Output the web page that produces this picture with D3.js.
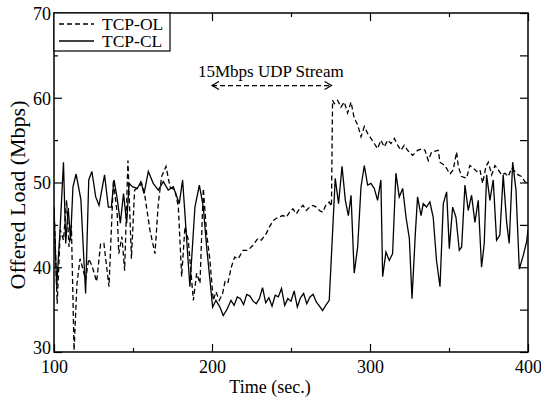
<!DOCTYPE html>
<html>
<head>
<meta charset="utf-8">
<script src="https://cdn.jsdelivr.net/npm/d3@7"></script>
<style>
  body { margin: 0; background: #fff; }
  text { font-family: "Liberation Serif", "Times New Roman", serif; fill: #000; }
</style>
</head>
<body>
<div id="chart"></div>
<script>
// * STEP 1: Data
//==============================================
var seriesNames = ["TCP-OL", "TCP-CL"];

// TCP-OL (dashed)
var olTime = [100, 102, 104, 106, 108, 109.5, 111, 112.7, 114.5, 116.5, 118, 120, 122, 124, 127, 129.5, 131.6, 134.8, 137.6, 140,
  141, 143, 144.7, 146.8, 149, 151, 153.8, 155.5, 157.6, 160.7, 163.9, 166, 168.1, 170.9, 173.4, 176.6, 178.7, 180.8, 182.9, 185,
  188.2, 190.3, 192.4, 194.5, 196.6, 198.7, 200.8, 202.5, 204.6, 206.7, 208.2, 210, 212.2, 214.3, 216.6, 219.6, 222.8, 225.9, 229.1, 231.2,
  234.4, 236.5, 238.6, 241.7, 244.9, 247, 249.1, 251.2, 253.4, 255.5, 257.6, 259.7, 261.8, 263.9, 266, 268, 270, 272, 274.2, 275.6,
  276.3, 277.4, 279.5, 281.6, 283.7, 285.8, 288, 290, 292.2, 294.3, 296.4, 298.5, 300.6, 302.7, 304.8, 306.9, 309, 311.2, 313.3, 315.4,
  317.5, 319.6, 321.7, 323.8, 327, 330.1, 333.3, 334.8, 336.9, 339, 343.2, 344.3, 347.4, 350.6, 352.7, 354.8, 355.9, 358, 361.1, 363.2,
  365.4, 367.5, 369.6, 371.3, 373.4, 374.9, 377, 379.1, 381.2, 383.3, 385.4, 387.5, 389.6, 391.7, 393.8, 396, 398, 400];
var olLoad = [47.1, 35.7, 44.4, 43.2, 47.9, 42.4, 45.0, 30.2, 38, 41, 40, 38.5, 41, 40.2, 38.3, 42.8, 42.8, 37.7, 50.3, 46.3,
  41.6, 43.6, 39.6, 52.6, 41, 49.1, 49.5, 49.9, 48.3, 44.4, 41.6, 47.5, 50.7, 51.9, 49.5, 49.1, 47.1, 38.9, 44.8, 43.2,
  36.1, 39.3, 38.1, 49.3, 44, 40.8, 36.1, 37.1, 36.1, 36.9, 38.3, 38.1, 40.0, 41.2, 41.0, 42.0, 42.0, 42.6, 43.4, 43.2,
  44.0, 44.8, 45.5, 45.9, 46.1, 45.9, 46.5, 46.9, 46.3, 46.9, 47.3, 46.7, 47.1, 47.3, 47.1, 46.7, 46.5, 47.3, 47.7, 47.2,
  59.7, 59.3, 59.7, 58.9, 59.5, 58.2, 59.5, 57.6, 56.8, 55.4, 56.6, 55.8, 55.2, 54.6, 54.0, 55.0, 54.2, 55.0, 54.6, 55.2,
  54.4, 53.8, 54.4, 53.8, 53.2, 53.8, 54.0, 53.8, 52.6, 53.6, 53.8, 52.4, 52.0, 51.0, 51.5, 53.6, 51.9, 50.7, 50.5, 52.0,
  51.7, 51.3, 51.5, 49.9, 51.9, 52.4, 50.9, 52.0, 51.5, 50.9, 51.1, 50.7, 51.7, 51.3, 50.9, 50.7, 50.1, 49.9];

// TCP-CL (solid)
var clTime = [100, 101.7, 104, 106, 107.4, 109, 110.5, 112, 114, 117, 120, 122, 124, 126.4, 128.5, 132, 134.4, 136.3, 138, 140,
  142, 144, 146, 147.5, 149.6, 152.7, 155, 157, 159.7, 162.8, 166, 169.2, 172.3, 175.5, 179.3, 181.4, 184, 186, 189.2, 192,
  194.5, 196.6, 198.7, 200.4, 202.5, 205, 207.1, 209.7, 212, 214, 216, 218, 220, 222, 224, 226, 228, 230, 232, 234,
  236, 238, 240, 242, 244, 246, 248, 250, 252, 254, 256, 258, 260, 262, 264, 266, 268, 270, 272, 274.2,
  278, 280.1, 282.3, 284.4, 286.3, 288, 290, 292.2, 294.3, 296.4, 298.5, 300.6, 302.7, 304.8, 306.9, 308, 310.1, 312.2, 314.3, 316.4,
  318.5, 320.7, 322.8, 324.9, 326.6, 328.7, 330.1, 332.3, 333.7, 335.8, 337.9, 340, 342.1, 344.3, 346.4, 348.5, 350.2, 352.3, 354.4, 356.5,
  358, 360.1, 362.2, 364.3, 366.4, 368.5, 370.6, 372.3, 373.8, 375.9, 378, 380.1, 382.2, 384.3, 386.5, 388.1, 390.3, 392.4, 394.5, 397,
  399.1, 400];
var clLoad = [47, 37.7, 45, 52.4, 42.8, 47, 43.2, 49.5, 51, 48, 36.9, 50.3, 51.3, 48.3, 47.3, 50.9, 47.1, 47.1, 50.3, 48.1,
  45.2, 48.7, 45.2, 49.9, 49.5, 49.3, 50.1, 48.7, 51.3, 49.9, 49.1, 50.1, 49.1, 49.5, 47.5, 50.3, 43.2, 37.7, 47.1, 49.7,
  47.1, 42.4, 38.5, 35.3, 36.1, 35.3, 34.3, 35.1, 36.1, 35.5, 36.5, 36.3, 35.6, 36.8, 36.6, 36.0, 35.7, 36.3, 37.6, 35.8,
  36.4, 35.4, 36.7, 36.5, 37.5, 35.5, 36.3, 36.0, 37.2, 35.3, 36.4, 36.9, 35.7, 36.5, 36.8, 35.9, 35.4, 34.9, 35.5, 36.1,
  50.5, 47.5, 51.9, 47.9, 46.1, 48.5, 39.3, 42.4, 49.5, 52.0, 49.7, 49.9, 49.3, 47.9, 50.3, 38.9, 41.8, 40.8, 41.6, 51.1,
  48.3, 49.3, 45.9, 43.4, 36.3, 44.0, 48.3, 46.1, 47.5, 47.1, 47.7, 45.9, 40.8, 37.7, 47.5, 48.9, 42.2, 47.1, 45.9, 42.0,
  42.4, 49.7, 46.7, 48.5, 45.3, 47.9, 40.0, 42.8, 50.9, 47.9, 50.3, 43.2, 43.8, 50.9, 45.3, 42.8, 52.4, 49.1, 39.8, 41.4,
  43.0, 44.4];

// annotation
var udpLabel = "15Mbps UDP Stream";
var udpStart = 200, udpEnd = 275.7, udpLevel = 61.5;

// * STEP 2: Work area
//==============================================
var svgWidth = 541;
var svgHeight = 400;
var margin = { top: 13, right: 13, bottom: 48, left: 54 };
var chartWidth = svgWidth - margin.left - margin.right;
var chartHeight = svgHeight - margin.top - margin.bottom;

var svg = d3.select("#chart").append("svg")
    .attr("width", svgWidth)
    .attr("height", svgHeight);

var g = svg.append("g")
    .attr("transform", `translate(${margin.left}, ${margin.top})`);

// * STEP 3: Scales and axes
//==============================================
var xScale = d3.scaleLinear().domain([100, 400]).range([0, chartWidth]);
var yScale = d3.scaleLinear().domain([30, 70]).range([chartHeight, 0]);

function tickLen(v, step) { return (v % step === 0) ? 8 : 4; }

// ticks point inward on all four sides
var bottomAxis = d3.axisBottom(xScale).tickValues(d3.range(100, 401, 50))
    .tickSizeInner(0).tickSizeOuter(0).tickFormat(d => d % 100 === 0 ? d : "");
var leftAxis = d3.axisLeft(yScale).tickValues(d3.range(30, 71, 5))
    .tickSizeInner(0).tickSizeOuter(0).tickFormat(d => d % 10 === 0 ? d : "");

var xAxisG = g.append("g").attr("transform", `translate(0, ${chartHeight})`).call(bottomAxis);
var yAxisG = g.append("g").call(leftAxis);

xAxisG.selectAll(".tick line").attr("y2", d => -tickLen(d, 100));
yAxisG.selectAll(".tick line").attr("x2", d => tickLen(d, 10));
xAxisG.selectAll(".tick text").attr("dy", "0.95em").attr("y", 4).style("font-size", "18px");
yAxisG.selectAll(".tick text").attr("x", -3).attr("dy", d => d === 30 ? "0.1em" : "0.35em").style("font-size", "18px");

var topAxisG = g.append("g").call(d3.axisTop(xScale).tickValues(d3.range(100, 401, 50))
    .tickSizeInner(0).tickSizeOuter(0).tickFormat(""));
topAxisG.selectAll(".tick line").attr("y2", d => tickLen(d, 100));
var rightAxisG = g.append("g").attr("transform", `translate(${chartWidth}, 0)`)
    .call(d3.axisRight(yScale).tickValues(d3.range(30, 71, 5))
    .tickSizeInner(0).tickSizeOuter(0).tickFormat(""));
rightAxisG.selectAll(".tick line").attr("x2", -8);

g.selectAll(".domain").remove();
g.selectAll(".tick line").attr("stroke", "#000").attr("stroke-width", 1.2);

// frame
g.append("rect")
    .attr("width", chartWidth).attr("height", chartHeight)
    .attr("fill", "none").attr("stroke", "#000").attr("stroke-width", 1.5);

// * STEP 4: Lines
//==============================================
svg.append("defs").append("clipPath").attr("id", "plotClip")
    .append("rect").attr("width", chartWidth).attr("height", chartHeight);

var line = d3.line().x(d => xScale(d[0])).y(d => yScale(d[1]));

var plot = g.append("g").attr("clip-path", "url(#plotClip)");

plot.append("path")
    .datum(olTime.map((t, i) => [t, olLoad[i]]))
    .attr("d", line)
    .attr("fill", "none").attr("stroke", "#000").attr("stroke-width", 1.3)
    .attr("stroke-dasharray", "5,3");

plot.append("path")
    .datum(clTime.map((t, i) => [t, clLoad[i]]))
    .attr("d", line)
    .attr("fill", "none").attr("stroke", "#000").attr("stroke-width", 1.3);

// UDP annotation, dashed double arrow
var ay = yScale(udpLevel) + 0.5;
var ax1 = xScale(udpStart), ax2 = xScale(udpEnd);
g.append("line")
    .attr("x1", ax1).attr("x2", ax2).attr("y1", ay).attr("y2", ay)
    .attr("stroke", "#000").attr("stroke-width", 1.2).attr("stroke-dasharray", "5,3");
g.append("path")
    .attr("d", `M${ax1 + 7},${ay - 4}L${ax1},${ay}L${ax1 + 7},${ay + 4}M${ax2 - 7},${ay - 4}L${ax2},${ay}L${ax2 - 7},${ay + 4}`)
    .attr("fill", "none").attr("stroke", "#000").attr("stroke-width", 1.2);
g.append("text")
    .attr("x", (ax1 + ax2) / 2 - 1).attr("y", ay - 9)
    .attr("text-anchor", "middle").style("font-size", "17px")
    .text(udpLabel);

// * STEP 5: Legend
//==============================================
var legend = g.append("g");
legend.append("rect")
    .attr("x", 0).attr("y", 0).attr("width", 116).attr("height", 38)
    .attr("fill", "#fff").attr("stroke", "#000").attr("stroke-width", 1.2);

seriesNames.forEach((name, i) => {
    var ly = 11 + i * 17;
    legend.append("line")
        .attr("x1", 5).attr("x2", 40).attr("y1", ly).attr("y2", ly)
        .attr("stroke", "#000").attr("stroke-width", 1.3)
        .attr("stroke-dasharray", i === 0 ? "5,3" : null);
    legend.append("text")
        .attr("x", 48).attr("y", ly + 5.5)
        .style("font-size", "17.5px")
        .text(name);
});

// * STEP 6: Axis titles
//==============================================
svg.append("text")
    .attr("x", 270).attr("y", 393)
    .attr("text-anchor", "middle").style("font-size", "18px")
    .text("Time (sec.)");

svg.append("text")
    .attr("transform", "translate(25, 195) rotate(-90)")
    .attr("text-anchor", "middle").style("font-size", "22px")
    .text("Offered Load (Mbps)");
</script>
</body>
</html>
